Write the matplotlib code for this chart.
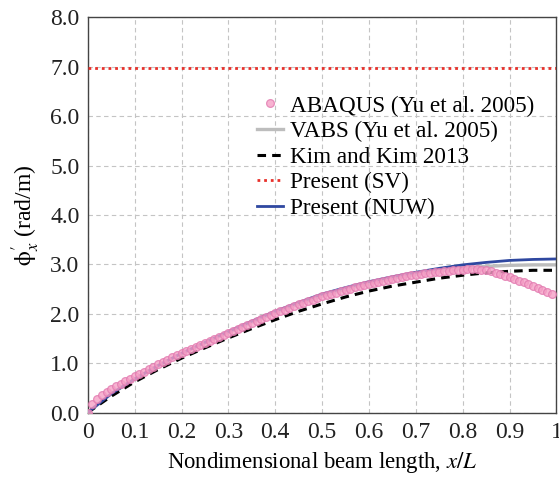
import numpy as np
import matplotlib
matplotlib.use("Agg")
import matplotlib.pyplot as plt

plt.rcParams["font.family"] = ["Liberation Serif", "DejaVu Serif"]
plt.rcParams["mathtext.fontset"] = "stix"

# ABAQUS (Yu et al. 2005), sampled every 0.01 of x/L
abaqus_x = [i / 100 for i in range(100)]
abaqus_y = [
    0.00, 0.18, 0.28, 0.35, 0.41, 0.47, 0.53, 0.58, 0.63, 0.68,
    0.73, 0.78, 0.83, 0.88, 0.93, 0.98, 1.02, 1.07, 1.12, 1.16,
    1.21, 1.25, 1.29, 1.33, 1.37, 1.41, 1.45, 1.49, 1.53, 1.57,
    1.61, 1.65, 1.69, 1.73, 1.77, 1.81, 1.85, 1.89, 1.93, 1.97,
    2.01, 2.05, 2.08, 2.12, 2.15, 2.19, 2.22, 2.25, 2.28, 2.32,
    2.35, 2.38, 2.41, 2.43, 2.46, 2.49, 2.51, 2.54, 2.56, 2.58,
    2.61, 2.63, 2.65, 2.67, 2.69, 2.71, 2.73, 2.74, 2.76, 2.78,
    2.79, 2.80, 2.82, 2.83, 2.84, 2.85, 2.86, 2.87, 2.88, 2.89,
    2.89, 2.90, 2.90, 2.90, 2.89, 2.88, 2.86, 2.83, 2.80, 2.77,
    2.74, 2.71, 2.67, 2.64, 2.60, 2.56, 2.52, 2.48, 2.44, 2.39,
]

# Curves sampled every 0.05 of x/L
curve_x = [i / 20 for i in range(21)]
vabs_y = [0.00, 0.38, 0.68, 0.95, 1.19, 1.41, 1.62, 1.83, 2.02, 2.20, 2.36,
          2.50, 2.62, 2.72, 2.80, 2.87, 2.92, 2.96, 2.98, 2.99, 2.99]
kim_y = [0.00, 0.33, 0.62, 0.87, 1.10, 1.31, 1.51, 1.70, 1.88, 2.05, 2.20,
         2.34, 2.46, 2.56, 2.64, 2.72, 2.78, 2.83, 2.86, 2.88, 2.88]
nuw_y = [0.00, 0.38, 0.68, 0.95, 1.20, 1.42, 1.64, 1.85, 2.05, 2.23, 2.40,
         2.53, 2.65, 2.75, 2.84, 2.92, 2.99, 3.04, 3.08, 3.10, 3.11]
sv_x = [0.0, 1.0]
sv_y = [6.97, 6.97]

x_ticks = [0, 0.1, 0.2, 0.3, 0.4, 0.5, 0.6, 0.7, 0.8, 0.9, 1.0]
x_tick_labels = ["0", "0.1", "0.2", "0.3", "0.4", "0.5", "0.6", "0.7", "0.8", "0.9", "1"]
y_ticks = [0, 1, 2, 3, 4, 5, 6, 7, 8]
y_tick_labels = ["%.1f" % v for v in y_ticks]

fig = plt.figure(figsize=(5.59, 4.79), dpi=100)
ax = fig.add_axes([0.157, 0.1388, 0.8385, 0.8247])

ax.plot(curve_x, vabs_y, color="#bdbdbd", lw=2.4, zorder=2,
        label="VABS (Yu et al. 2005)")
ax.plot(curve_x, kim_y, color="black", lw=2.2, ls=(0, (2.8, 2.0)), zorder=3,
        label="Kim and Kim 2013")
ax.plot(sv_x, sv_y, color="#e8302a", lw=2.0, ls=(0, (1, 1.4)), zorder=3,
        label="Present (SV)")
ax.plot(curve_x, nuw_y, color="#2f48a0", lw=2.0, zorder=3,
        label="Present (NUW)")
ax.plot(abaqus_x, abaqus_y, ls="none", marker="o", ms=5.6,
        mfc="#f5a0c6", mec="#e27ab0", mew=0.9, alpha=0.8, zorder=4,
        label="ABAQUS (Yu et al. 2005)")

ax.set_xlim(0, 1)
ax.set_ylim(0, 8)
ax.set_xticks(x_ticks)
ax.set_xticklabels(x_tick_labels)
ax.set_yticks(y_ticks)
ax.set_yticklabels(y_tick_labels)
ax.tick_params(length=0, labelsize=17, colors="#222222")
ax.tick_params(axis="x", pad=7)
ax.tick_params(axis="y", pad=6)
ax.grid(True, color="#c4c4c4", ls=(0, (4, 3)), lw=0.8)
for s in ax.spines.values():
    s.set_color("#444444")
    s.set_linewidth(1.0)

ax.set_xlabel(r"Nondimensional beam length, $x/L$", fontsize=16.4, labelpad=5)
ax.set_ylabel(r"$\mathrm{\phi}_x^{\prime}$ (rad/m)", fontsize=17, labelpad=6)

handles, labels = ax.get_legend_handles_labels()
order = [4, 0, 1, 2, 3]
leg = ax.legend([handles[i] for i in order], [labels[i] for i in order],
                loc="upper left", bbox_to_anchor=(0.362, 0.803),
                frameon=False, fontsize=16.7, numpoints=1,
                handlelength=1.1, handletextpad=0.32, labelspacing=0.19,
                borderaxespad=0, borderpad=0)

fig.savefig("out.png", dpi=100)
